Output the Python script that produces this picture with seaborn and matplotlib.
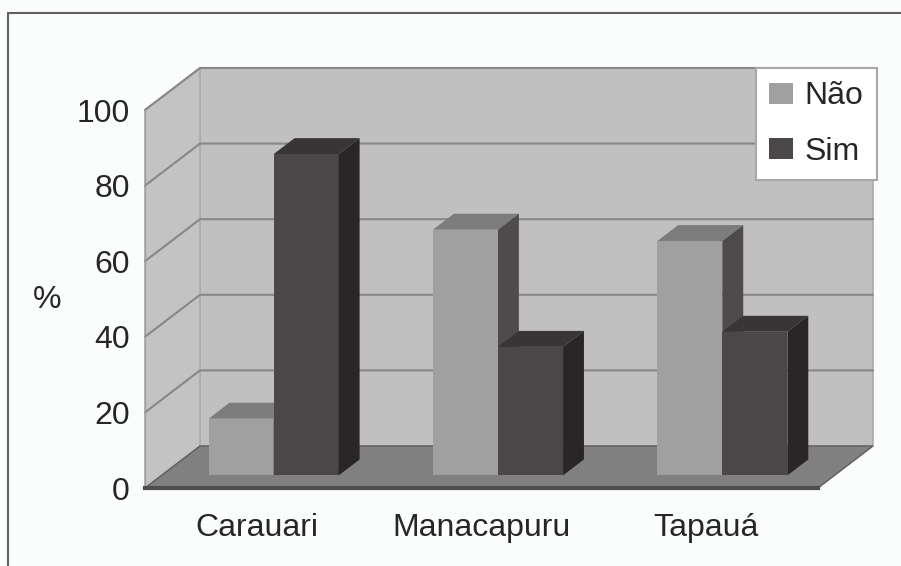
import pandas as pd
import seaborn as sns
import matplotlib.pyplot as plt
from matplotlib.patches import Polygon, Patch
from matplotlib.lines import Line2D

# dados
municipios = ["Carauari", "Manacapuru", "Tapauá"]
respostas = ["Não", "Sim"]
pct_nao = [15, 65, 62]
pct_sim = [85, 34, 38]
yticks = [0, 20, 40, 60, 80, 100]

cores_frente = {"Não": "#a0a0a0", "Sim": "#4b4748"}
cores_topo = {"Não": "#7c7c7c", "Sim": "#393536"}
cores_lado = {"Não": "#4f4b4c", "Sim": "#2a2627"}

df = pd.DataFrame({
    "municipio": municipios * 2,
    "resposta": ["Não"] * len(municipios) + ["Sim"] * len(municipios),
    "pct": pct_nao + pct_sim,
})

sns.set_style("white")
plt.rcParams["font.family"] = ["Liberation Sans", "DejaVu Sans"]

W, H = 901, 566
fig = plt.figure(figsize=(W / 100, H / 100), dpi=100, facecolor="#fbfdfd")
ax = fig.add_axes([145 / W, (H - 488) / H, 673 / W, 378 / H])
ax.set_facecolor("none")

sns.barplot(data=df, x="municipio", y="pct", hue="resposta", order=municipios,
            hue_order=respostas, palette=cores_frente, width=0.58, errorbar=None,
            legend=False, saturation=1, linewidth=0, ax=ax)
ax.set_xlim(-0.5, len(municipios) - 0.5)
ax.set_ylim(yticks[0], yticks[-1])

# profundidade do "3D" em unidades de dados
ox = 55 / (673 / len(municipios))
oy = 42 / (378 / yticks[-1])
z0, z1 = 0.30, 0.68
xl, xr = ax.get_xlim()
ytop = yticks[-1]

# paredes e chao
ax.add_patch(Polygon([(xl, 0), (xr, 0), (xr + ox, oy), (xl + ox, oy)],
                     fc="#808080", ec="#5e5e5e", lw=1, zorder=0.5, clip_on=False))
ax.add_patch(Polygon([(xl + ox, oy), (xr + ox, oy), (xr + ox, ytop + oy), (xl + ox, ytop + oy)],
                     fc="#c0c0c0", ec="#ababab", lw=1.2, zorder=0.3, clip_on=False))
ax.add_patch(Polygon([(xl, 0), (xl, ytop), (xl + ox, ytop + oy), (xl + ox, oy)],
                     fc="#c3c3c3", ec="#ababab", lw=1.2, zorder=0.3, clip_on=False))

for v in yticks[1:]:
    ax.plot([xl, xl + ox, xr + ox], [v, v + oy, v + oy], color="#878787",
            lw=1.5, zorder=1, clip_on=False)

# barras com faces de topo e lateral
dz = z1 - z0
for nivel, cont, zo in zip(respostas, ax.containers, [2, 3]):
    for bar in cont:
        x0 = bar.get_x() + z0 * ox
        w = bar.get_width()
        h = bar.get_height()
        y0 = z0 * oy
        bar.set_x(x0)
        bar.set_y(y0)
        bar.set_zorder(zo)
        bar.set_clip_on(False)
        x1 = x0 + w
        yt = y0 + h
        ax.add_patch(Polygon([(x0, yt), (x1, yt), (x1 + dz * ox, yt + dz * oy), (x0 + dz * ox, yt + dz * oy)],
                             fc=cores_topo[nivel], ec="none", zorder=zo, clip_on=False))
        ax.add_patch(Polygon([(x1, y0), (x1, yt), (x1 + dz * ox, yt + dz * oy), (x1 + dz * ox, y0 + dz * oy)],
                             fc=cores_lado[nivel], ec="none", zorder=zo, clip_on=False))

# eixos
ax.set_yticks(yticks)
ax.set_xticks([i - 0.5 for i in range(len(municipios) + 1)], minor=True)
ax.tick_params(axis="y", length=5, width=1, color="#9a9a9a", labelsize=23, pad=6)
ax.tick_params(axis="x", which="major", length=0, labelsize=23, pad=18)
ax.tick_params(axis="x", which="minor", length=8, width=1.5, color="#b5b5b5")
ax.set_xlabel("")
ax.set_ylabel("%", rotation=0, fontsize=23, va="center", ha="center")
ax.yaxis.set_label_coords((47 - 145) / 673, (488 - 300) / 378)
sns.despine(ax=ax, top=True, right=True)
ax.spines["left"].set_color("#a0a0a0")
ax.spines["left"].set_linewidth(1)
ax.spines["bottom"].set_color("#4d4d4d")
ax.spines["bottom"].set_linewidth(3)

handles = [Patch(facecolor=cores_frente[r], edgecolor="none", label=r) for r in respostas]
leg = ax.legend(handles=handles, loc="upper right", bbox_to_anchor=(877 / W, 1 - 68 / H),
                bbox_transform=fig.transFigure, fontsize=23, frameon=True, fancybox=False,
                framealpha=1, edgecolor="#a8a8a8", facecolor="white", borderaxespad=0,
                borderpad=0.42, handlelength=0.75, handleheight=0.65, handletextpad=0.37,
                labelspacing=0.8)
leg.get_frame().set_linewidth(1.5)
leg.set_zorder(10)

# moldura
fig.add_artist(Line2D([8 / W, 8 / W], [0, 1 - 13 / H], color="#606060", lw=1.5))
fig.add_artist(Line2D([8 / W, 1], [1 - 13 / H, 1 - 13 / H], color="#606060", lw=1.5))

fig.savefig("out.png", dpi=100)
